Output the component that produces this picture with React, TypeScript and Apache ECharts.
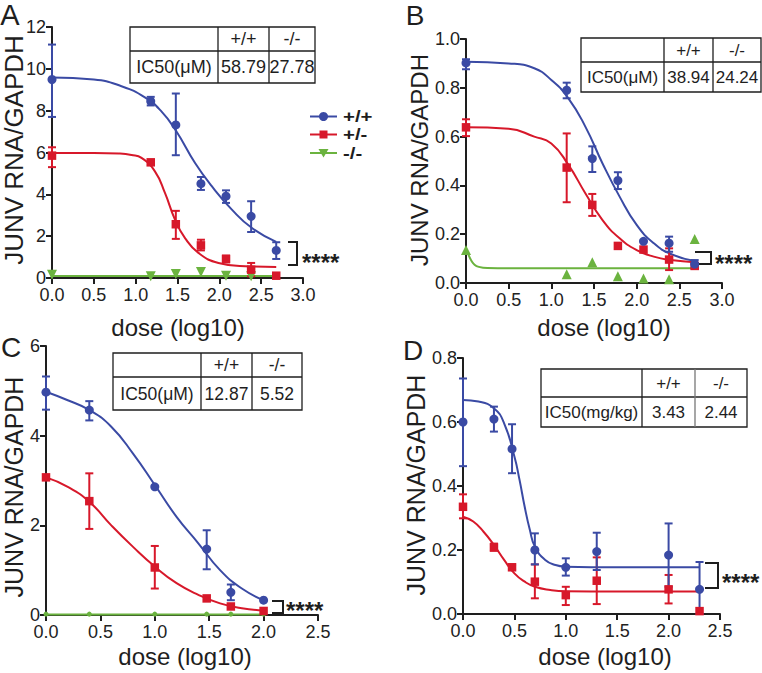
import React, { useEffect, useRef } from "react";
import * as echarts from "echarts";

const FONT = "'Liberation Sans', Arial, Helvetica, sans-serif";
const BLUE = "#3a4aa4";
const RED = "#d7182a";
const GREEN = "#6bb33f";
const INK = "#1e1e1e";

// ---------- Panel A ----------
const xA = [0, 1.18, 1.48, 1.78, 2.08, 2.38, 2.68];
const aWT = [9.49, 8.45, 7.32, 4.51, 3.91, 2.95, 1.32];
const aWTlo = [7.7, 8.25, 5.87, 4.21, 3.59, 2.2, 0.91];
const aWThi = [11.16, 8.66, 8.82, 4.83, 4.19, 3.67, 1.71];
const aHET = [5.85, 5.53, 2.57, 1.56, 0.91, 0.4, 0.11];
const aHETlo = [5.3, null, 1.87, 1.32, 0.75, 0.08, null];
const aHEThi = [6.25, null, 3.21, 1.83, 1.07, 0.72, null];
const aKO = [0.16, 0.08, 0.19, 0.29, 0.11, 0.08, null];
const aCurveWT = [[0, 9.58], [0.5, 9.49], [0.83, 9.17], [1.11, 8.64], [1.3, 8.0], [1.48, 7.05], [1.71, 5.5], [1.91, 4.39], [2.15, 3.27], [2.39, 2.39], [2.68, 1.73]];
const aCurveHET = [[0, 5.98], [0.5, 5.98], [0.8, 5.95], [0.95, 5.88], [1.07, 5.74], [1.23, 5.1], [1.35, 4.07], [1.47, 2.79], [1.59, 1.91], [1.75, 1.2], [1.99, 0.72], [2.31, 0.56], [2.68, 0.53]];
const aCurveKO = [[0, 0.09], [2.68, 0.09]];

// ---------- Panel B ----------
const xB = [0, 1.18, 1.48, 1.78, 2.08, 2.38, 2.68];
const bWT = [0.902, 0.79, 0.51, 0.42, 0.171, 0.163, 0.077];
const bWTlo = [0.876, 0.757, 0.455, 0.385, null, 0.128, 0.064];
const bWThi = [0.917, 0.821, 0.56, 0.454, null, 0.19, 0.094];
const bHET = [0.638, 0.473, 0.32, 0.152, 0.137, 0.096, 0.07];
const bHETlo = [0.602, 0.331, 0.275, null, null, 0.053, 0.058];
const bHEThi = [0.671, 0.613, 0.365, null, null, 0.142, 0.08];
const bKO = [0.135, 0.036, 0.085, 0.028, 0.018, 0.015, 0.18];
const bCurveWT = [[0, 0.907], [0.5, 0.9], [0.8, 0.88], [1.0, 0.832], [1.2, 0.757], [1.4, 0.64], [1.6, 0.49], [1.8, 0.354], [2.0, 0.238], [2.2, 0.163], [2.4, 0.119], [2.68, 0.09]];
const bCurveHET = [[0, 0.638], [0.5, 0.632], [0.8, 0.6], [1.0, 0.572], [1.2, 0.484], [1.4, 0.367], [1.6, 0.258], [1.8, 0.183], [2.0, 0.135], [2.2, 0.108], [2.4, 0.094], [2.68, 0.085]];
const bCurveKO = [[0, 0.14], [0.03, 0.115], [0.06, 0.093], [0.1, 0.075], [0.15, 0.066], [0.25, 0.061], [0.5, 0.06], [2.68, 0.06]];

// ---------- Panel C ----------
const xC = [0, 0.398, 1.0, 1.477, 1.699, 2.0];
const cWT = [4.97, 4.57, 2.86, 1.47, 0.505, 0.33];
const cWTlo = [4.58, 4.34, null, 1.02, 0.33, null];
const cWThi = [5.32, 4.77, null, 1.89, 0.68, null];
const cHET = [3.07, 2.54, 1.06, 0.37, 0.19, 0.09];
const cHETlo = [null, 1.92, 0.59, null, null, null];
const cHEThi = [null, 3.16, 1.54, null, null, null];
const cKO = [0.02, 0.02, 0.02, 0.02, 0.02, 0.02];
const cCurveWT = [[0, 4.98], [0.2, 4.79], [0.4, 4.57], [0.6, 4.2], [0.8, 3.6], [1.0, 2.9], [1.2, 2.19], [1.4, 1.6], [1.6, 1.0], [1.8, 0.59], [2.0, 0.33]];
const cCurveHET = [[0, 3.07], [0.2, 2.86], [0.4, 2.52], [0.6, 2.0], [0.8, 1.52], [1.0, 1.08], [1.2, 0.71], [1.4, 0.45], [1.6, 0.26], [1.8, 0.15], [2.0, 0.1]];
const cCurveKO = [[0, 0.01], [2.0, 0.01]];

// ---------- Panel D ----------
const xD = [0, 0.301, 0.477, 0.699, 1.0, 1.301, 2.0, 2.301];
const dWT = [0.6, 0.609, 0.516, 0.2, 0.146, 0.195, 0.184, 0.077];
const dWTlo = [0.462, 0.57, 0.44, 0.155, 0.12, 0.1375, 0.085, 0.0];
const dWThi = [0.736, 0.648, 0.593, 0.252, 0.174, 0.254, 0.283, 0.1625];
const dHET = [0.335, 0.208, 0.146, 0.101, 0.059, 0.104, 0.077, 0.009];
const dHETlo = [0.299, 0.198, 0.14, 0.049, 0.028, 0.031, 0.033, null];
const dHEThi = [0.374, 0.22, 0.153, 0.155, 0.085, 0.177, 0.122, null];
const dCurveWT = [[0, 0.669], [0.15, 0.664], [0.3, 0.643], [0.4, 0.596], [0.5, 0.492], [0.55, 0.419], [0.6, 0.335], [0.65, 0.263], [0.7, 0.21], [0.8, 0.169], [0.9, 0.153], [1.0, 0.148], [1.5, 0.146], [2.3, 0.146]];
const dCurveHET = [[0, 0.304], [0.1, 0.289], [0.2, 0.257], [0.3, 0.216], [0.4, 0.169], [0.5, 0.127], [0.6, 0.101], [0.7, 0.085], [0.85, 0.075], [1.0, 0.071], [1.5, 0.07], [2.3, 0.07]];

// ---------- Tables / labels ----------
const panelLetters = ["A", "B", "C", "D"];
const tableHeader = ["", "+/+", "-/-"];
const ic50Labels = ["IC50(\u03bcM)", "IC50(\u03bcM)", "IC50(\u03bcM)", "IC50(mg/kg)"];
const ic50WT = ["58.79", "38.94", "12.87", "3.43"];
const ic50KO = ["27.78", "24.24", "5.52", "2.44"];
const legendNames = ["+/+", "+/-", "-/-"];
const xTitle = "dose (log10)";
const yTitle = "JUNV RNA/GAPDH";
const sigText = "****";

// axis ranges
const xMax = [3, 3, 2.5, 2.5];
const yMax = [12, 1, 6, 0.8];
const yInterval = [2, 0.2, 2, 0.2];
const yDecimals = [0, 1, 0, 1];

// layout (pixels)
const grids = [
  { left: 52, top: 27, width: 251, height: 251 },
  { left: 466, top: 39, width: 256, height: 244 },
  { left: 46, top: 346, width: 272, height: 269 },
  { left: 463, top: 358, width: 257, height: 256 },
];
const tableGeom = [
  { xs: [130, 218, 269, 315], ys: [27, 51, 83], fs: 18, inner: INK },
  { xs: [581, 664, 713, 761], ys: [38, 62, 92], fs: 17, inner: INK },
  { xs: [113, 201, 252, 302], ys: [353, 377, 410], fs: 17.5, inner: INK },
  { xs: [541, 642, 695, 747], ys: [369, 397, 427], fs: 17, inner: "#777" },
];
const letterPos = [[10, 15, 29], [415, 15, 28], [11, 347, 28], [413, 350, 28]];
const xTitlePos = [[178, 327], [604, 327], [185, 656], [605, 656]];
const yTitlePos = [[14, 150, 26], [419, 160, 24], [14, 487, 25], [416, 485, 25]];
const brackets = [
  { x1: 288, x2: 297, y1: 242, y2: 265, tx: 302, ty: 262 },
  { x1: 695, x2: 711, y1: 252, y2: 264, tx: 715, ty: 263 },
  { x1: 272, x2: 283, y1: 601, y2: 613, tx: 286, ty: 610 },
  { x1: 705, x2: 718, y1: 563, y2: 588, tx: 722, ty: 582 },
];

function pairs(xs: number[], ys: (number | null)[]) {
  const out: any[] = [];
  xs.forEach((x, i) => {
    if (ys[i] !== null && ys[i] !== undefined) out.push([x, ys[i]]);
  });
  return out;
}
function errs(xs: number[], lo: (number | null)[], hi: (number | null)[]) {
  const out: any[] = [];
  xs.forEach((x, i) => {
    if (lo[i] !== null && hi[i] !== null) out.push([x, lo[i], hi[i]]);
  });
  return out;
}

function curveSeries(idx: number, data: any[], color: string) {
  return {
    type: "line",
    xAxisIndex: idx,
    yAxisIndex: idx,
    data,
    smooth: 0.5,
    showSymbol: false,
    symbol: "none",
    lineStyle: { color, width: 2 },
    z: 2,
    silent: true,
  };
}
function errSeries(idx: number, data: any[], color: string) {
  return {
    type: "custom",
    xAxisIndex: idx,
    yAxisIndex: idx,
    data,
    encode: { x: 0, y: [1, 2] },
    z: 3,
    silent: true,
    renderItem: (params: any, api: any) => {
      const x = api.value(0);
      const p1 = api.coord([x, api.value(2)]);
      const p2 = api.coord([x, api.value(1)]);
      const w = 4;
      const st = { stroke: color, lineWidth: 2 };
      return {
        type: "group",
        children: [
          { type: "line", shape: { x1: p1[0], y1: p1[1], x2: p2[0], y2: p2[1] }, style: st },
          { type: "line", shape: { x1: p1[0] - w, y1: p1[1], x2: p1[0] + w, y2: p1[1] }, style: st },
          { type: "line", shape: { x1: p2[0] - w, y1: p2[1], x2: p2[0] + w, y2: p2[1] }, style: st },
        ],
      };
    },
  };
}
function ptSeries(idx: number, data: any[], color: string, symbol: string, size: number, rotate = 0) {
  return {
    type: "scatter",
    xAxisIndex: idx,
    yAxisIndex: idx,
    data,
    symbol,
    symbolSize: size,
    symbolRotate: rotate,
    itemStyle: { color, opacity: 1 },
    z: 4,
    clip: false,
    silent: true,
  };
}

function buildOption() {
  const axisLine = { show: true, onZero: false, lineStyle: { color: INK, width: 2 } };
  const axisTick = { show: true, length: 6, inside: false, lineStyle: { color: INK, width: 2 } };
  const xAxis = grids.map((_, i) => ({
    type: "value",
    gridIndex: i,
    min: 0,
    max: xMax[i],
    interval: 0.5,
    axisLine,
    axisTick,
    splitLine: { show: false },
    axisLabel: { fontSize: 18, lineHeight: 14, color: "#222", fontFamily: FONT, margin: 10, formatter: (v: number) => v.toFixed(1) },
  }));
  const yAxis = grids.map((_, i) => ({
    type: "value",
    gridIndex: i,
    min: 0,
    max: yMax[i],
    interval: yInterval[i],
    axisLine,
    axisTick,
    splitLine: { show: false },
    axisLabel: { fontSize: 18, lineHeight: 14, color: "#222", fontFamily: FONT, margin: 6, formatter: (v: number) => v.toFixed(yDecimals[i]) },
  }));

  const series: any[] = [
    // A
    curveSeries(0, aCurveKO, GREEN),
    curveSeries(0, aCurveHET, RED),
    curveSeries(0, aCurveWT, BLUE),
    errSeries(0, errs(xA, aHETlo, aHEThi), RED),
    errSeries(0, errs(xA, aWTlo, aWThi), BLUE),
    ptSeries(0, pairs(xA, aKO), GREEN, "triangle", 10, 180),
    ptSeries(0, pairs(xA, aHET), RED, "rect", 8.5),
    ptSeries(0, pairs(xA, aWT), BLUE, "circle", 9),
    // B
    curveSeries(1, bCurveKO, GREEN),
    curveSeries(1, bCurveHET, RED),
    curveSeries(1, bCurveWT, BLUE),
    errSeries(1, errs(xB, bHETlo, bHEThi), RED),
    errSeries(1, errs(xB, bWTlo, bWThi), BLUE),
    ptSeries(1, pairs(xB, bKO), GREEN, "triangle", 10),
    ptSeries(1, pairs(xB, bHET), RED, "rect", 8.5),
    ptSeries(1, pairs(xB, bWT), BLUE, "circle", 9),
    // C
    curveSeries(2, cCurveKO, GREEN),
    curveSeries(2, cCurveHET, RED),
    curveSeries(2, cCurveWT, BLUE),
    errSeries(2, errs(xC, cHETlo, cHEThi), RED),
    errSeries(2, errs(xC, cWTlo, cWThi), BLUE),
    ptSeries(2, pairs(xC, cKO), GREEN, "circle", 5),
    ptSeries(2, pairs(xC, cHET), RED, "rect", 8.5),
    ptSeries(2, pairs(xC, cWT), BLUE, "circle", 9),
    // D
    curveSeries(3, dCurveHET, RED),
    curveSeries(3, dCurveWT, BLUE),
    errSeries(3, errs(xD, dHETlo, dHEThi), RED),
    errSeries(3, errs(xD, dWTlo, dWThi), BLUE),
    ptSeries(3, pairs(xD, dHET), RED, "rect", 8.5),
    ptSeries(3, pairs(xD, dWT), BLUE, "circle", 9),
  ];

  const graphic: any[] = [];
  const txt = (x: number, y: number, text: string, fs: number, extra: any = {}) => ({
    type: "text",
    x,
    y,
    silent: true,
    ...extra.el,
    style: {
      text,
      fontSize: fs,
      fontFamily: FONT,
      fill: "#1e1e1e",
      align: "center",
      verticalAlign: "middle",
      ...extra.style,
    },
  });

  for (let i = 0; i < 4; i++) {
    const [lx, ly, lfs] = letterPos[i];
    graphic.push(txt(lx, ly, panelLetters[i], lfs));
    graphic.push(txt(xTitlePos[i][0], xTitlePos[i][1], xTitle, 24));
    const [tx, ty, tfs] = yTitlePos[i];
    graphic.push(txt(tx, ty, yTitle, tfs, { el: { rotation: Math.PI / 2 } }));

    // table
    const t = tableGeom[i];
    const [x0, x1, x2, x3] = t.xs;
    const [y0, y1, y2] = t.ys;
    graphic.push({ type: "rect", silent: true, shape: { x: x0, y: y0, width: x3 - x0, height: y2 - y0 }, style: { fill: "#fff", stroke: INK, lineWidth: 1.3 } });
    graphic.push({ type: "line", silent: true, shape: { x1: x0, y1: y1, x2: x3, y2: y1 }, style: { stroke: INK, lineWidth: 1.3 } });
    graphic.push({ type: "line", silent: true, shape: { x1: x1, y1: y0, x2: x1, y2: y2 }, style: { stroke: i === 3 ? INK : t.inner, lineWidth: 1.3 } });
    graphic.push({ type: "line", silent: true, shape: { x1: x2, y1: y0, x2: x2, y2: y2 }, style: { stroke: t.inner, lineWidth: 1.3 } });
    const hy = (y0 + y1) / 2;
    const ry = (y1 + y2) / 2;
    graphic.push(txt((x1 + x2) / 2, hy, tableHeader[1], t.fs));
    graphic.push(txt((x2 + x3) / 2, hy, tableHeader[2], t.fs));
    graphic.push(txt((x0 + x1) / 2, ry, ic50Labels[i], t.fs));
    graphic.push(txt((x1 + x2) / 2, ry, ic50WT[i], t.fs));
    graphic.push(txt((x2 + x3) / 2, ry, ic50KO[i], t.fs));

    // significance bracket
    const b = brackets[i];
    graphic.push({
      type: "polyline",
      silent: true,
      shape: { points: [[b.x1, b.y1], [b.x2, b.y1], [b.x2, b.y2], [b.x1, b.y2]] },
      style: { stroke: INK, lineWidth: 2, fill: null },
    });
    graphic.push(txt(b.tx, b.ty, sigText, 24, { style: { align: "left", fontWeight: "bold" } }));
  }

  // legend for panel A
  const legColors = [BLUE, RED, GREEN];
  const legY = [116.5, 134.5, 153];
  for (let k = 0; k < 3; k++) {
    const y = legY[k];
    const c = legColors[k];
    graphic.push({ type: "line", silent: true, shape: { x1: 310, y1: y, x2: 337, y2: y }, style: { stroke: c, lineWidth: 2 } });
    if (k === 0) graphic.push({ type: "circle", silent: true, shape: { cx: 323.5, cy: y, r: 4.5 }, style: { fill: c } });
    if (k === 1) graphic.push({ type: "rect", silent: true, shape: { x: 319.5, y: y - 4, width: 8, height: 8 }, style: { fill: c } });
    if (k === 2) graphic.push({ type: "polygon", silent: true, shape: { points: [[318.5, y - 4], [328.5, y - 4], [323.5, y + 4.5]] }, style: { fill: c } });
    graphic.push(txt(343, y, legendNames[k], 17, { el: { scaleX: 1.2 }, style: { align: "left", fontWeight: "bold", lineHeight: 16 } }));
  }

  return {
    animation: false,
    backgroundColor: "#ffffff",
    grid: grids.map((g) => ({ ...g, containLabel: false })),
    xAxis,
    yAxis,
    series,
    graphic,
  };
}

export default function App() {
  const ref = useRef<HTMLDivElement>(null);
  useEffect(() => {
    if (!ref.current) return;
    const chart = echarts.init(ref.current, undefined, { renderer: "svg" });
    chart.setOption(buildOption() as any);
    return () => chart.dispose();
  }, []);
  return (
    <div
      ref={ref}
      style={{ position: "fixed", left: 0, top: 0, width: 762, height: 673, background: "#fff" }}
    />
  );
}
